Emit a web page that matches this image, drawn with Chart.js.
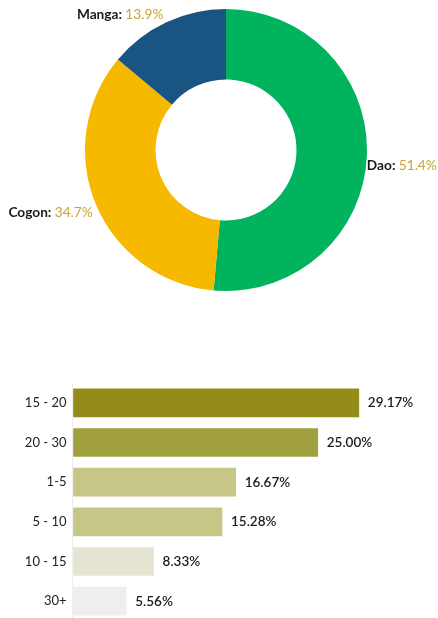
<!DOCTYPE html>
<html>
<head>
<meta charset="utf-8">
<script src="https://cdn.jsdelivr.net/npm/chart.js@4/dist/chart.umd.min.js"></script>
<style>
  html, body { margin: 0; padding: 0; background: #fff; overflow: hidden; }
  body { width: 438px; height: 618px; position: relative; }
  #pieBox { position: absolute; left: 0; top: 0; width: 438px; height: 300px; }
  #barBox { position: absolute; left: 0; top: 383px; width: 438px; height: 238px; }
</style>
</head>
<body>
<div id="pieBox"><canvas id="pie"></canvas></div>
<div id="barBox"><canvas id="bars"></canvas></div>
<script>
// Material used for the tool handle
const toolLabels = ['Dao', 'Cogon', 'Manga'];
const toolShares = [51.4, 34.7, 13.9];
const toolColors = ['#02b35e', '#f6b900', '#1a5483'];

// Age groups (years)
const ageLabels = ['15 - 20', '20 - 30', '1-5', '5 - 10', '10 - 15', '30+'];
const ageShares = [29.17, 25.00, 16.67, 15.28, 8.33, 5.56];
const ageColors = ['#938b1a', '#a0a03e', '#c6c686', '#c6c686', '#e5e4d2', '#eeeeee'];

const FONT = 'Lato, "Open Sans", sans-serif';
const SLICE_FONT_SIZE = 13.7;

// Category name + percentage beside each doughnut slice
const sliceLabels = {
  id: 'sliceLabels',
  afterDatasetsDraw(chart) {
    const ctx = chart.ctx;
    const meta = chart.getDatasetMeta(0);
    meta.data.forEach((arc, i) => {
      const p = arc.getProps(['x', 'y', 'startAngle', 'endAngle', 'outerRadius']);
      const a = (p.startAngle + p.endAngle) / 2;
      const px = p.x + Math.cos(a) * p.outerRadius;
      const py = p.y + Math.sin(a) * p.outerRadius;
      const name = chart.data.labels[i] + ': ';
      const val = chart.data.datasets[0].data[i].toFixed(1) + '%';
      ctx.save();
      ctx.font = 'bold ' + SLICE_FONT_SIZE + 'px ' + FONT;
      const wName = ctx.measureText(name).width;
      ctx.font = SLICE_FONT_SIZE + 'px ' + FONT;
      const wVal = ctx.measureText(val).width;
      const right = px >= p.x;
      const x0 = right ? px : px - 3 - wName - wVal;
      const y0 = py < p.y - p.outerRadius * 0.5 ? py - 8 : py + 9;
      ctx.textBaseline = 'middle';
      ctx.textAlign = 'left';
      ctx.font = 'bold ' + SLICE_FONT_SIZE + 'px ' + FONT;
      ctx.fillStyle = '#1b1b1b';
      ctx.fillText(name, x0, y0);
      ctx.font = SLICE_FONT_SIZE + 'px ' + FONT;
      ctx.fillStyle = '#c8a337';
      ctx.fillText(val, x0 + wName, y0);
      ctx.restore();
    });
  }
};

// Percentage at the end of each bar
const barValues = {
  id: 'barValues',
  afterDatasetsDraw(chart) {
    const ctx = chart.ctx;
    const meta = chart.getDatasetMeta(0);
    ctx.save();
    ctx.font = '600 13.5px ' + FONT;
    ctx.fillStyle = '#1b1b1b';
    ctx.textAlign = 'left';
    ctx.textBaseline = 'middle';
    meta.data.forEach((bar, i) => {
      const v = chart.data.datasets[0].data[i];
      ctx.fillText(v.toFixed(2) + '%', bar.x + 8, bar.y);
    });
    ctx.restore();
  }
};

new Chart(document.getElementById('pie'), {
  type: 'doughnut',
  data: {
    labels: toolLabels,
    datasets: [{ data: toolShares, backgroundColor: toolColors, borderWidth: 0 }]
  },
  options: {
    responsive: true,
    maintainAspectRatio: false,
    animation: false,
    cutout: '50%',
    layout: { padding: { top: 9, bottom: 9, left: 14, right: 0 } },
    plugins: { legend: { display: false }, tooltip: { enabled: false } }
  },
  plugins: [sliceLabels]
});

new Chart(document.getElementById('bars'), {
  type: 'bar',
  data: {
    labels: ageLabels,
    datasets: [{
      data: ageShares,
      backgroundColor: ageColors,
      borderColor: 'rgba(255,255,255,0.45)',
      borderWidth: 1,
      borderSkipped: false,
      barThickness: 30
    }]
  },
  options: {
    indexAxis: 'y',
    responsive: true,
    maintainAspectRatio: false,
    animation: false,
    layout: { padding: { top: 0, bottom: 0, left: 0, right: 70 } },
    scales: {
      x: { display: false, min: 0, max: 30 },
      y: {
        afterFit(scale) {
          scale.width = 72.5;
          scale.paddingTop = 0;
          scale.paddingBottom = 0;
        },
        grid: { display: false, drawTicks: false },
        border: { display: true, color: '#ececec', width: 1 },
        ticks: { color: '#222', padding: 6, font: { family: FONT, size: 13 } }
      }
    },
    plugins: { legend: { display: false }, tooltip: { enabled: false } }
  },
  plugins: [barValues]
});
</script>
</body>
</html>
